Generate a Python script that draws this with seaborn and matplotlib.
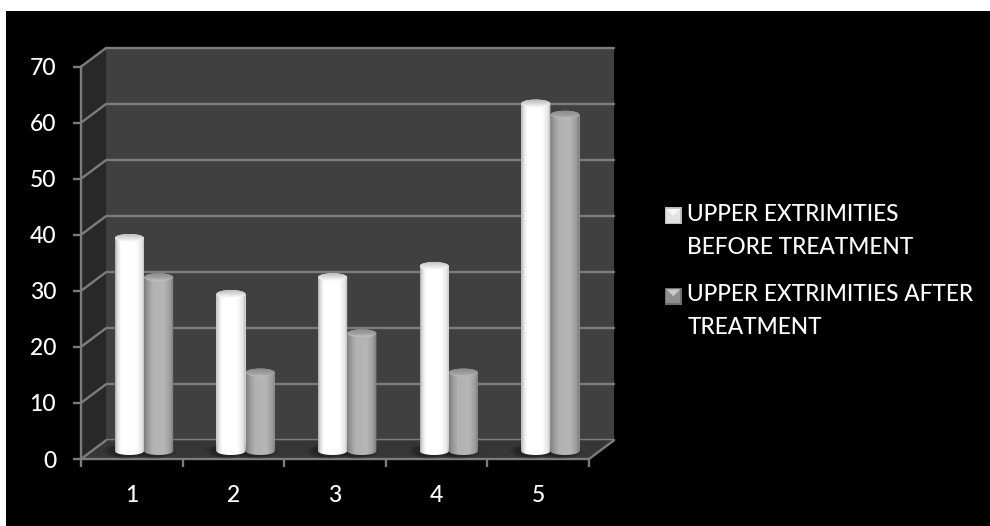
import numpy as np
import pandas as pd
import matplotlib
matplotlib.use("Agg")
import matplotlib.pyplot as plt
from matplotlib.colors import LinearSegmentedColormap
from matplotlib.legend_handler import HandlerBase
from matplotlib.patches import Polygon, Rectangle, Ellipse
import seaborn as sns

# Series values
categories = ["1", "2", "3", "4", "5"]
before_treatment = [38, 28, 31, 33, 62]
after_treatment = [31, 14, 21, 14, 60]
series_names = ["UPPER EXTRIMITIES\nBEFORE TREATMENT",
                "UPPER EXTRIMITIES AFTER\nTREATMENT"]
y_ticks = [0, 10, 20, 30, 40, 50, 60, 70]

W, H = 990, 526
FRONT = (81, 589, 66.7, 459)      # left, right, top, bottom of the front plane in pixels
DEPTH = (25, 18.7)                # offset of the back wall from the front plane
MIDDLE = (12.2, 8.0)              # offset of the plane the cylinders stand on
CAP_PX = 4.0                      # half height of a cylinder's elliptical cap

GRID = "#7c7c7c"
WALL = "#404040"
SIDE = "#282828"
FLOOR = "#363636"
TEXT_WEIGHT = "medium"

sns.set_theme(style="dark", rc={"font.family": ["Lato", "DejaVu Sans"]})


def plane_axes(fig, dx, dy, zorder):
    left, right, top, bottom = FRONT
    ax = fig.add_axes([(left + dx) / W, (H - bottom + dy) / H,
                       (right - left) / W, (bottom - top) / H], zorder=zorder)
    ax.set_xlim(-0.5, len(categories) - 0.5)
    ax.set_ylim(0, max(y_ticks))
    ax.patch.set_alpha(0)
    for s in ax.spines.values():
        s.set_visible(False)
    return ax


fig = plt.figure(figsize=(W / 100, H / 100), dpi=100, facecolor="white")
fig.add_artist(Rectangle((6 / W, 0), 1, 1 - 11 / H, transform=fig.transFigure,
                         facecolor="black", edgecolor="none", zorder=-10))

# Back wall with its horizontal gridlines
back = plane_axes(fig, DEPTH[0], DEPTH[1], 1)
back.patch.set_alpha(1)
back.set_facecolor(WALL)
back.set_yticks(y_ticks)
back.set_xticks([])
back.tick_params(left=False, labelleft=False)
back.grid(axis="y", color=GRID, lw=1.7)
for line in back.get_ygridlines():
    line.set_clip_on(False)

# Front plane: axis lines, ticks, side wall and floor
front = plane_axes(fig, 0, 0, 2)
n = len(categories)
ddx = DEPTH[0] * n / (FRONT[1] - FRONT[0])
ddy = DEPTH[1] * max(y_ticks) / (FRONT[3] - FRONT[2])
x0, x1 = -0.5, n - 0.5
front.add_patch(Polygon([(x0, 0), (x0, max(y_ticks)), (x0 + ddx, max(y_ticks) + ddy), (x0 + ddx, ddy)],
                        facecolor=SIDE, edgecolor="none", clip_on=False))
front.add_patch(Polygon([(x0, 0), (x1, 0), (x1 + ddx, ddy), (x0 + ddx, ddy)],
                        facecolor=FLOOR, edgecolor="none", clip_on=False))
for v in y_ticks:
    front.plot([x0, x0 + ddx], [v, v + ddy], color=GRID, lw=1.7, clip_on=False, solid_capstyle="round")
front.plot([x1, x1 + ddx], [0, ddy], color=GRID, lw=1.7, clip_on=False)
for side in ("left", "bottom"):
    front.spines[side].set_visible(True)
    front.spines[side].set_color(GRID)
    front.spines[side].set_linewidth(1.7)
front.set_yticks(y_ticks)
front.set_xticks(np.arange(n))
front.set_xticklabels(categories)
front.set_xticks(np.arange(n + 1) - 0.5, minor=True)
front.tick_params(axis="x", which="major", length=0, pad=18.5, labelsize=16.5, labelcolor="white")
front.tick_params(axis="x", which="minor", length=5.8, width=1.7, color=GRID, bottom=True)
front.tick_params(axis="y", length=5.8, width=1.7, color=GRID, left=True, pad=12,
                  labelsize=16.5, labelcolor="white")
for tick_label in front.get_xticklabels() + front.get_yticklabels():
    tick_label.set_fontweight(TEXT_WEIGHT)
front.set_xlabel("")
front.set_ylabel("")

# Cylinders: seaborn places the bars, each is then shaded as a rounded column
mid = plane_axes(fig, MIDDLE[0], MIDDLE[1], 3)
table = pd.DataFrame({"group": categories * 2,
                      "value": before_treatment + after_treatment,
                      "series": [series_names[0]] * n + [series_names[1]] * n})
sns.barplot(data=table, x="group", y="value", hue="series", hue_order=series_names,
            palette=["#f4f4f4", "#b0b0b0"], width=0.575, gap=0, legend=False,
            saturation=1, linewidth=0, ax=mid)
mid.set_xlim(x0, x1)
mid.set_ylim(0, max(y_ticks))
mid.set_xticks([])
mid.set_yticks([])
mid.set_xlabel("")
mid.set_ylabel("")

white_body = LinearSegmentedColormap.from_list(
    "white_body", [(0, "#a8a8a8"), (0.07, "#dcdcdc"), (0.2, "#ffffff"), (0.7, "#ffffff"),
                   (0.9, "#e6e6e6"), (1, "#b0b0b0")])
gray_body = LinearSegmentedColormap.from_list(
    "gray_body", [(0, "#7c7c7c"), (0.1, "#959595"), (0.3, "#b2b2b2"), (0.68, "#b6b6b6"),
                  (0.88, "#9c9c9c"), (1, "#747474")])
white_cap = LinearSegmentedColormap.from_list(
    "white_cap", [(0, "#bcbcbc"), (0.6, "#e4e4e4"), (1, "#ffffff")])
gray_cap = LinearSegmentedColormap.from_list(
    "gray_cap", [(0, "#8c8c8c"), (0.6, "#a2a2a2"), (1, "#c4c4c4")])

px_per_y = (FRONT[3] - FRONT[2]) / max(y_ticks)
cap = CAP_PX / px_per_y
ramp = np.linspace(0, 1, 128)
theta = np.linspace(0, np.pi, 60)
for container, body_map, cap_map in zip(mid.containers, (white_body, gray_body), (white_cap, gray_cap)):
    for bar in container:
        xa, w, top = bar.get_x(), bar.get_width(), bar.get_height()
        xc = xa + w / 2
        # soft shadow on the floor
        for grow, alpha in ((1.5, 0.07), (1.3, 0.10), (1.12, 0.14)):
            mid.add_patch(Ellipse((xc - 0.04, 0), w * grow, cap * 2.6 * grow, facecolor="black",
                                  edgecolor="none", alpha=alpha, zorder=1, clip_on=False))
        outline = np.vstack([
            np.column_stack([xc + w / 2 * np.cos(theta), top + cap * np.sin(theta)]),
            np.column_stack([xc - w / 2 * np.cos(theta), -cap * np.sin(theta)]),
        ])
        shape = Polygon(outline, closed=True, transform=mid.transData, facecolor="none", edgecolor="none")
        mid.add_patch(shape)
        shape.set_clip_on(False)
        im = mid.imshow(ramp[None, :], extent=(xa, xa + w, -cap, top + cap), aspect="auto",
                        cmap=body_map, vmin=0, vmax=1, zorder=3)
        im.set_clip_box(fig.bbox)
        im.set_clip_path(shape)
        ring = Ellipse((xc, top), w, cap * 2, transform=mid.transData, facecolor="none", edgecolor="none")
        mid.add_patch(ring)
        ring.set_clip_on(False)
        lid = mid.imshow(ramp[:, None], extent=(xa, xa + w, top - cap, top + cap), aspect="auto",
                         cmap=cap_map, vmin=0, vmax=1, origin="upper", zorder=4)
        lid.set_clip_box(fig.bbox)
        lid.set_clip_path(ring)
mid.set_xlim(x0, x1)
mid.set_ylim(0, max(y_ticks))


class BevelSquare(HandlerBase):
    """Legend key drawn as a small bevelled square sitting beside the first text line."""

    def __init__(self, edge, light, **kw):
        super().__init__(**kw)
        self.edge, self.light = edge, light

    def create_artists(self, legend, orig, xd, yd, width, height, fontsize, trans):
        s, lift = 12.0, 10.8
        y = -yd + lift
        inset = 1.0
        base = Rectangle((0, y), s, s, facecolor=self.edge, edgecolor="none", transform=trans)
        plain = Rectangle((inset, y + inset), s - 2 * inset, s - 2 * inset,
                          facecolor=orig.get_facecolor(), edgecolor="none", transform=trans)
        tri = Polygon([(inset, y + s - inset), (s - inset, y + s - inset), (s / 2, y + s / 2)],
                      facecolor=self.light, edgecolor="none", transform=trans)
        return [base, plain, tri]


keys = [Rectangle((0, 0), 1, 1, facecolor="#e2e2e2"), Rectangle((0, 0), 1, 1, facecolor="#8e8e8e")]
legend = fig.legend(keys, series_names, loc="upper left",
                    bbox_to_anchor=(665 / W, 1 - 203.5 / H), bbox_transform=fig.transFigure,
                    frameon=False, prop={"size": 16.3, "weight": TEXT_WEIGHT}, labelcolor="white",
                    borderpad=0, borderaxespad=0, handlelength=0.74, handletextpad=0.24, labelspacing=1.16,
                    handler_map={keys[0]: BevelSquare("#bcbcbc", "#f6f6f6"),
                                 keys[1]: BevelSquare("#707070", "#c8c8c8")})
for label in legend.get_texts():
    label.set_linespacing(1.72)
legend.set_zorder(5)

fig.savefig("out.png", dpi=100, facecolor=fig.get_facecolor())
